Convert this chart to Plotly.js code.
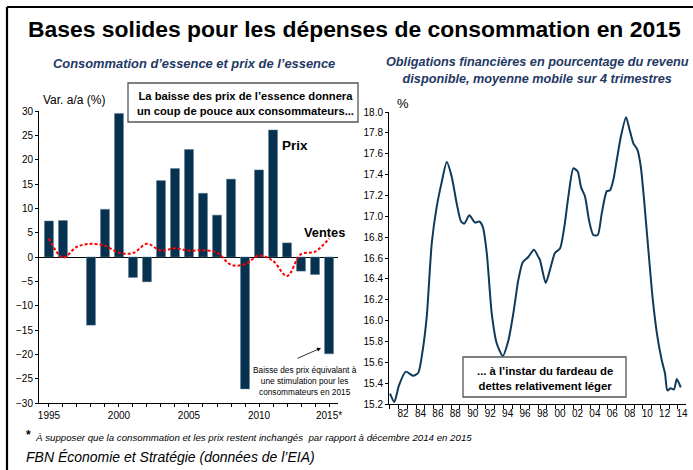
<!DOCTYPE html>
<html><head><meta charset="utf-8">
<script src="https://cdn.plot.ly/plotly-3.0.1.min.js"></script>
<style>html,body{margin:0;padding:0;background:#fff}#chart{width:693px;height:470px}</style>
</head><body><div id="chart"></div>
<script>
// ---- Left chart data (Var. a/a %) ----
const years = [1995,1996,1997,1998,1999,2000,2001,2002,2003,2004,2005,2006,2007,2008,2009,2010,2011,2012,2013,2014,2015];
const prix = [7.4, 7.5, null, -14.0, 9.8, 29.5, -4.2, -5.1, 15.7, 18.2, 22.1, 13.1, 8.6, 16.0, -27.1, 17.9, 26.1, 2.9, -2.9, -3.6, -19.9];
const ventes = [3.8, -0.1, 2.1, 2.7, 2.3, 0.9, 0.8, 2.7, 1.3, 1.8, 1.3, 1.4, 0.9, -1.6, -1.5, 0.3, -0.8, -3.9, 0.6, 1.1, 3.8];
const leftTickText = ['1995','','','','','2000','','','','','2005','','','','','2010','','','','','2015*'];

// ---- Right chart data (obligations financières, % du revenu disponible) ----
const forYears = [1981.01,1981.50,1982.04,1982.81,1983.68,1984.25,1984.71,1985.22,1985.79,1986.36,1986.94,1987.51,1988.08,1988.66,1989.15,1989.53,1990.10,1990.76,1991.25,1991.64,1992.10,1992.67,1993.25,1993.93,1994.58,1995.15,1995.72,1996.23,1996.87,1997.52,1998.02,1998.21,1998.86,1999.36,1999.93,2000.50,2001.00,2001.46,2002.03,2002.53,2002.91,2003.37,2003.83,2004.32,2004.83,2005.29,2005.86,2006.24,2006.62,2007.01,2007.47,2008.07,2008.45,2008.91,2009.37,2009.76,2010.14,2010.63,2011.14,2011.66,2012.17,2012.55,2012.81,2013.20,2013.58,2013.89,2014.35];
const forValues = [15.30,15.22,15.38,15.51,15.47,15.50,15.69,16.04,16.74,17.09,17.33,17.52,17.38,17.12,16.95,16.93,17.01,16.94,16.95,16.90,16.65,16.07,15.78,15.66,15.81,16.07,16.39,16.56,16.61,16.68,16.61,16.58,16.36,16.49,16.65,16.69,16.90,17.19,17.46,17.43,17.28,17.19,16.96,16.82,16.82,17.03,17.24,17.25,17.35,17.54,17.76,17.95,17.84,17.70,17.64,17.48,17.16,16.68,16.20,15.85,15.62,15.49,15.33,15.35,15.34,15.44,15.36];
const rightTickVals = [1982.5,1984.5,1986.5,1988.5,1990.5,1992.5,1994.5,1996.5,1998.5,2000.5,2002.5,2004.5,2006.5,2008.5,2010.5,2012.5,2014.5];
const rightTickText = ['82','84','86','88','90','92','94','96','98','00','02','04','06','08','10','12','14'];

const W = 693, H = 470;
const px = x => x / W;
const py = y => 1 - y / H;
const ARIAL = '"Liberation Sans", Arial, sans-serif';
const BLUE = '#1F3864';

const traces = [
  {type:'bar', x: years, y: prix, xaxis:'x', yaxis:'y', width:0.64,
   marker:{color:'#06324F', line:{color:'#5a7a90', width:0.5}}, hoverinfo:'skip'},
  {type:'scatter', mode:'lines', x: years, y: ventes, xaxis:'x', yaxis:'y',
   line:{color:'#FF0000', width:2, dash:'3px,2px', shape:'spline', smoothing:1}, hoverinfo:'skip'},
  {type:'scatter', mode:'lines', x: forYears, y: forValues, xaxis:'x2', yaxis:'y2',
   line:{color:'#0F3A5A', width:2, shape:'spline', smoothing:0.6}, hoverinfo:'skip'}
];

const axFont = {family: ARIAL, size: 10, color:'#000'};

const layout = {
  width: W, height: H, autosize:false,
  margin:{l:0,r:0,t:0,b:0},
  paper_bgcolor:'#fff', plot_bgcolor:'rgba(0,0,0,0)',
  showlegend:false,
  xaxis:{domain:[px(39), px(338)], range:[1994.29, 2015.64], anchor:'y',
    tickmode:'array', tickvals: years, ticktext: leftTickText,
    ticks:'outside', ticklen:3, tickcolor:'#000', showline:true, linecolor:'#000', linewidth:1,
    showgrid:false, zeroline:false, tickfont: axFont, fixedrange:true},
  yaxis:{domain:[py(403), py(111)], range:[-30, 30], anchor:'x', dtick:5, tick0:0,
    ticks:'outside', ticklen:3, tickcolor:'#000', showline:true, linecolor:'#000', linewidth:1,
    showgrid:false, zeroline:true, zerolinecolor:'#000', zerolinewidth:1, tickfont: axFont, fixedrange:true},
  xaxis2:{domain:[px(389), px(686)], range:[1980.89, 2014.95], anchor:'y2',
    tickmode:'array', tickvals: rightTickVals, ticktext: rightTickText, ticks:'',
    minor:{tickmode:'linear', tick0:1981, dtick:1, ticks:'outside', ticklen:4, tickcolor:'#000'},
    showline:true, linecolor:'#000', linewidth:1, showgrid:false, zeroline:false, tickfont: axFont, fixedrange:true},
  yaxis2:{domain:[py(404), py(112)], range:[15.2, 18.0], anchor:'x2', dtick:0.2, tick0:15.2, tickformat:'.1f',
    ticks:'outside', ticklen:3, tickcolor:'#000', showline:true, linecolor:'#000', linewidth:1,
    showgrid:false, zeroline:false, tickfont: axFont, fixedrange:true},
  shapes:[
    {type:'line', xref:'paper', yref:'paper', x0:px(7), x1:px(700), y0:py(7), y1:py(7), line:{color:'#000', width:2.2}},
    {type:'line', xref:'paper', yref:'paper', x0:px(7), x1:px(7), y0:py(7), y1:py(480), line:{color:'#000', width:2.2}},
    {type:'rect', xref:'paper', yref:'paper', x0:px(128), x1:px(358), y0:py(83), y1:py(122), line:{color:'#555', width:1.3}, fillcolor:'#fff', layer:'above'},
    {type:'rect', xref:'paper', yref:'paper', x0:px(463), x1:px(626), y0:py(357), y1:py(397), line:{color:'#555', width:1.3}, fillcolor:'#fff', layer:'above'}
  ],
  annotations:[
    {xref:'paper', yref:'paper', x:px(354), y:py(29), text:'<b>Bases solides pour les dépenses de consommation en 2015</b>',
     showarrow:false, xanchor:'center', yanchor:'middle', font:{family:ARIAL, size:22.9, color:'#000'}},
    {xref:'paper', yref:'paper', x:px(194), y:py(63), text:'<b><i>Consommation d’essence et prix de l’essence</i></b>',
     showarrow:false, xanchor:'center', yanchor:'middle', font:{family:ARIAL, size:12.9, color:BLUE}},
    {xref:'paper', yref:'paper', x:px(537), y:py(70), text:'<b><i>Obligations financières en pourcentage du revenu<br>disponible, moyenne mobile sur 4 trimestres</i></b>',
     showarrow:false, xanchor:'center', yanchor:'middle', font:{family:ARIAL, size:12.7, color:BLUE}},
    {xref:'paper', yref:'paper', x:px(41), y:py(100), text:'Var. a/a (%)',
     showarrow:false, xanchor:'left', yanchor:'middle', font:{family:ARIAL, size:12, color:'#000'}},
    {xref:'paper', yref:'paper', x:px(245), y:py(103), text:'<b>La baisse des prix de l’essence donnera<br>un coup de pouce aux consommateurs...</b>',
     showarrow:false, xanchor:'center', yanchor:'middle', font:{family:ARIAL, size:11.2, color:'#000'}},
    {xref:'paper', yref:'paper', x:px(280), y:py(145), text:'<b>Prix</b>',
     showarrow:false, xanchor:'left', yanchor:'middle', font:{family:ARIAL, size:13.5, color:'#000'}},
    {xref:'paper', yref:'paper', x:px(302), y:py(232), text:'<b>Ventes</b>',
     showarrow:false, xanchor:'left', yanchor:'middle', font:{family:ARIAL, size:12.8, color:'#000'}},
    {xref:'paper', yref:'paper', x:px(305), y:py(381), text:'Baisse des prix équivalant à<br>une stimulation pour les<br>consommateurs en 2015',
     showarrow:false, xanchor:'center', yanchor:'middle', font:{family:ARIAL, size:8.3, color:'#000'}},
    {xref:'paper', yref:'paper', x:px(321), y:py(348), ax:-25, ay:11, axref:'pixel', ayref:'pixel', text:'',
     showarrow:true, arrowhead:2, arrowsize:1, arrowwidth:0.8, arrowcolor:'#000'},
    {xref:'paper', yref:'paper', x:px(395), y:py(103), text:'%',
     showarrow:false, xanchor:'left', yanchor:'middle', font:{family:ARIAL, size:13, color:'#000'}},
    {xref:'paper', yref:'paper', x:px(544.5), y:py(378), text:'<b>... à l’instar du fardeau de<br>dettes relativement léger</b>',
     showarrow:false, xanchor:'center', yanchor:'middle', font:{family:ARIAL, size:11.3, color:'#000'}},
    {xref:'paper', yref:'paper', x:px(24), y:py(435), text:'<b>*</b>',
     showarrow:false, xanchor:'left', yanchor:'middle', font:{family:ARIAL, size:12, color:'#000'}},
    {xref:'paper', yref:'paper', x:px(33), y:py(437), text:'<i>À supposer que la consommation et les prix restent inchangés  par rapport à décembre 2014 en 2015</i>',
     showarrow:false, xanchor:'left', yanchor:'middle', font:{family:ARIAL, size:9.7, color:'#000'}},
    {xref:'paper', yref:'paper', x:px(24), y:py(457), text:'<i>FBN Économie et Stratégie (données de l’EIA)</i>',
     showarrow:false, xanchor:'left', yanchor:'middle', font:{family:ARIAL, size:14, color:'#000'}}
  ]
};

Plotly.newPlot('chart', traces, layout, {staticPlot:true, displayModeBar:false});
</script>
</body></html>
